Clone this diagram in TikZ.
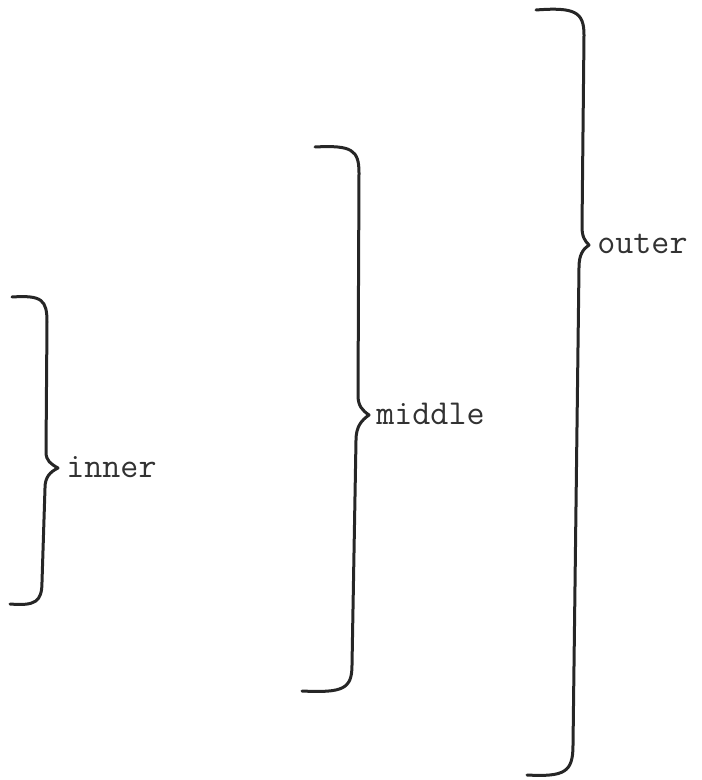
\documentclass[tikz,border=0pt]{standalone}
\usetikzlibrary{positioning}
\definecolor{inkdark}{RGB}{38,38,38}
\definecolor{inktext}{RGB}{50,50,50}
\tikzset{
    braceline/.style={draw=inkdark, line width=1.5pt, line cap=round, line join=round},
    bracelbl/.style={font=\fontsize{17.5}{21}\selectfont\ttfamily, text=inktext, inner sep=0pt, anchor=base west}
}
\begin{document}
\begin{tikzpicture}[x=0.5pt, y=-0.5pt]
        \useasboundingbox (0,0) rectangle (701,780);
        % brace tips
        \coordinate (innertip)  at (58,468);
        \coordinate (middletip) at (369,415);
        \coordinate (outertip)  at (589,245);
        % inner brace
        \draw[braceline] (12,297) .. controls (42,295) and (47,300) .. (47,322)
          -- (46,452) .. controls (46,461) and (51,464) .. (innertip)
          .. controls (50,472) and (45,477) .. (45,488)
          -- (42,582) .. controls (42,602) and (35,606) .. (10,604);
        % middle brace
        \draw[braceline] (315,147) .. controls (352,145) and (359,150) .. (359,173)
          -- (358,395) .. controls (358,406) and (362,410) .. (middletip)
          .. controls (362,420) and (356,426) .. (356,440)
          -- (352,665) .. controls (352,689) and (343,693) .. (302,691);
        % outer brace
        \draw[braceline] (536,10) .. controls (575,7) and (584,12) .. (584,35)
          -- (582,227) .. controls (582,237) and (585,241) .. (outertip)
          .. controls (583,249) and (579,255) .. (579,267)
          -- (573,745) .. controls (573,772) and (565,777) .. (527,775);
        % labels
        \node[bracelbl] (innerlbl)  at (66,477)  {inner};
        \node[bracelbl] (middlelbl) at (376,424) {middle};
        \node[bracelbl] (outerlbl)  at (597,254) {outer};
\end{tikzpicture}
\end{document}
